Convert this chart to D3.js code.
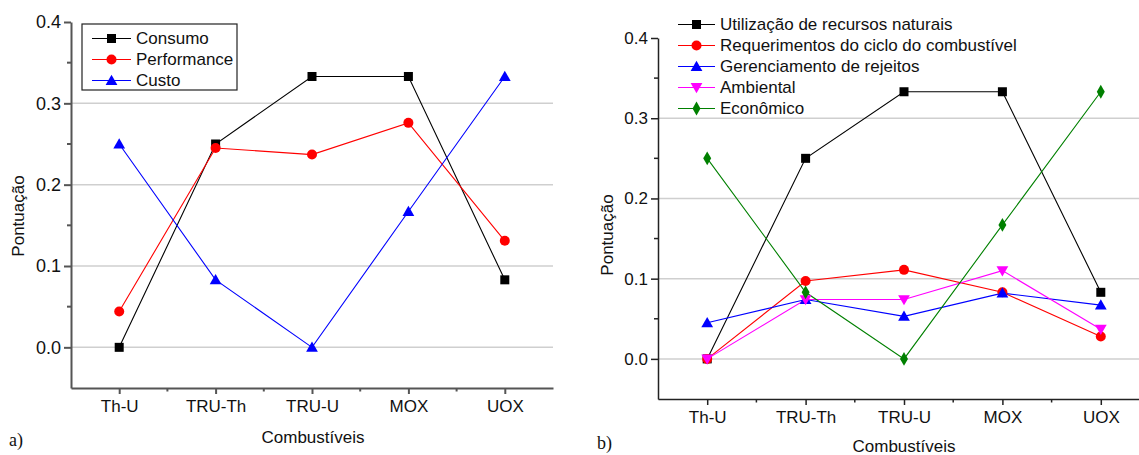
<!DOCTYPE html>
<html><head><meta charset="utf-8">
<script src="https://cdn.jsdelivr.net/npm/d3@7"></script>
<style>body{margin:0;background:#fff}svg{display:block}text{font-family:"Liberation Sans",Arial,sans-serif;fill:#111}</style>
</head><body><svg id="c" width="1139" height="455"></svg>
<script>
const categories = ["Th-U","TRU-Th","TRU-U","MOX","UOX"];
const yTicks = [0, 0.1, 0.2, 0.3, 0.4];
const yMinor = [0.05, 0.15, 0.25, 0.35];
// panel a
const aConsumo = [0, 0.25, 0.333, 0.333, 0.083];
const aPerformance = [0.044, 0.245, 0.237, 0.276, 0.131];
const aCusto = [0.25, 0.083, 0, 0.167, 0.333];
const aNames = ["Consumo", "Performance", "Custo"];
// panel b
const bUtilizacao = [0, 0.25, 0.333, 0.333, 0.083];
const bRequerimentos = [0, 0.097, 0.111, 0.083, 0.028];
const bGerenciamento = [0.045, 0.074, 0.053, 0.082, 0.067];
const bAmbiental = [0, 0.074, 0.074, 0.11, 0.037];
const bEconomico = [0.25, 0.083, 0, 0.167, 0.333];
const bNames = ["Utilização de recursos naturais", "Requerimentos do ciclo do combustível", "Gerenciamento de rejeitos", "Ambiental", "Econômico"];

const svg = d3.select("#c");

function marker(g, type, color, x, y) {
  if (type === "square") g.append("rect").attr("x", x-4.5).attr("y", y-4.5).attr("width", 9).attr("height", 9).attr("fill", color);
  else if (type === "circle") g.append("circle").attr("cx", x).attr("cy", y).attr("r", 5).attr("fill", color);
  else if (type === "tri") g.append("path").attr("d", d3.symbol(d3.symbolTriangle, 60)()).attr("transform", `translate(${x},${y+1})`).attr("fill", color);
  else if (type === "tridown") g.append("path").attr("d", d3.symbol(d3.symbolTriangle, 60)()).attr("transform", `translate(${x},${y-1}) rotate(180)`).attr("fill", color);
  else if (type === "diamond") g.append("path").attr("d", d3.symbol(d3.symbolDiamond, 55)()).attr("transform", `translate(${x},${y})`).attr("fill", color);
}

function panel(cfg) {
  const x = d3.scalePoint().domain(categories).range(cfg.xr).padding(0.5);
  const y = d3.scaleLinear().domain([-0.05, 0.4]).range(cfg.yr);
  const g = svg.append("g");
  // gridlines
  g.selectAll(".grid").data(yTicks.filter(d => d < 0.35)).enter().append("line")
    .attr("x1", cfg.xr[0]).attr("x2", cfg.gridEnd).attr("y1", d => y(d)).attr("y2", d => y(d))
    .attr("stroke", "#cfcfcf").attr("stroke-width", 1.5);
  // axes
  const ya = g.append("g").attr("transform", `translate(${cfg.xr[0]},0)`)
    .call(d3.axisLeft(y).tickValues(yTicks).tickFormat(d3.format(".1f")).tickSize(7).tickSizeOuter(0).tickPadding(3));
  ya.selectAll("text").style("font-size", cfg.yfs + "px").attr("fill", "#111");
  ya.selectAll("line,path").attr("stroke", cfg.axisColor).attr("stroke-width", cfg.axisW);
  g.selectAll(".ymin").data(yMinor).enter().append("line")
    .attr("x1", cfg.xr[0]-4).attr("x2", cfg.xr[0]).attr("y1", d => y(d)).attr("y2", d => y(d))
    .attr("stroke", cfg.axisColor).attr("stroke-width", cfg.axisW);
  const xa = g.append("g").attr("transform", `translate(0,${cfg.yr[0]})`)
    .call(d3.axisBottom(x).tickSize(6).tickSizeOuter(0).tickPadding(6));
  xa.selectAll("text").style("font-size", "17px").attr("fill", "#111");
  xa.selectAll("line,path").attr("stroke", cfg.axisColor).attr("stroke-width", cfg.axisW);
  const step = x.step();
  g.selectAll(".xmin").data(categories.slice(0, -1)).enter().append("line")
    .attr("x1", d => x(d) + step/2).attr("x2", d => x(d) + step/2)
    .attr("y1", cfg.yr[0]).attr("y2", cfg.yr[0] + 3.5)
    .attr("stroke", cfg.axisColor).attr("stroke-width", cfg.axisW);
  // series
  const line = d3.line().x((d, i) => x(categories[i])).y(d => y(d));
  cfg.series.forEach(s => {
    g.append("path").attr("d", line(s.values)).attr("fill", "none").attr("stroke", s.color).attr("stroke-width", 1.1);
  });
  cfg.series.forEach(s => {
    s.values.forEach((v, i) => marker(g, s.type, s.color, x(categories[i]), y(v)));
  });
  // titles
  g.append("text").attr("transform", `translate(${cfg.ytX},${cfg.ytY}) rotate(-90)`)
    .attr("text-anchor", "middle").attr("dy", "0.35em").style("font-size", "17px").text("Pontuação");
  g.append("text").attr("x", cfg.xtX).attr("y", cfg.xtY).attr("text-anchor", "middle").attr("dy", "0.35em")
    .style("font-size", "17px").text("Combustíveis");
  g.append("text").attr("x", cfg.labX).attr("y", cfg.labY).attr("dy", "0.35em")
    .style("font-family", "'Liberation Serif','Times New Roman',serif").style("font-size", "18px").text(cfg.label);
  // legend
  const lg = g.append("g");
  if (cfg.legendBox) {
    lg.append("rect").attr("x", cfg.legendBox[0]).attr("y", cfg.legendBox[1]).attr("width", cfg.legendBox[2]).attr("height", cfg.legendBox[3])
      .attr("fill", "#fff").attr("stroke", "#222").attr("stroke-width", 1.2);
  }
  cfg.series.forEach((s, i) => {
    const ly = cfg.legY0 + i * cfg.legDy;
    lg.append("line").attr("x1", cfg.legX).attr("x2", cfg.legX + cfg.legW).attr("y1", ly).attr("y2", ly)
      .attr("stroke", s.color).attr("stroke-width", 1.1);
    marker(lg, s.type, s.color, cfg.legX + cfg.legW/2, ly);
    lg.append("text").attr("x", cfg.legX + cfg.legW + 5).attr("y", ly).attr("dy", "0.35em")
      .style("font-size", "17px").text(s.name);
  });
}

panel({
  xr: [71, 553], yr: [388, 22], gridEnd: 553, axisColor: "#555", axisW: 2, yfs: 18,
  series: [
    {name: aNames[0], values: aConsumo, color: "#000000", type: "square"},
    {name: aNames[1], values: aPerformance, color: "#ff0000", type: "circle"},
    {name: aNames[2], values: aCusto, color: "#0000ff", type: "tri"}
  ],
  ytX: 18, ytY: 216, xtX: 313, xtY: 437, labX: 9, labY: 440, label: "a)",
  legendBox: [82, 24, 155, 66], legX: 92, legW: 39, legY0: 38.5, legDy: 21
});

panel({
  xr: [658, 1150], yr: [399, 38], gridEnd: 1150, axisColor: "#222", axisW: 1.5, yfs: 17,
  series: [
    {name: bNames[0], values: bUtilizacao, color: "#000000", type: "square"},
    {name: bNames[1], values: bRequerimentos, color: "#ff0000", type: "circle"},
    {name: bNames[2], values: bGerenciamento, color: "#0000ff", type: "tri"},
    {name: bNames[3], values: bAmbiental, color: "#ff00ff", type: "tridown"},
    {name: bNames[4], values: bEconomico, color: "#008000", type: "diamond"}
  ],
  ytX: 607, ytY: 235, xtX: 904, xtY: 446, labX: 597, labY: 443, label: "b)",
  legendBox: null, legX: 678, legW: 37, legY0: 24.5, legDy: 21
});
</script></body></html>
